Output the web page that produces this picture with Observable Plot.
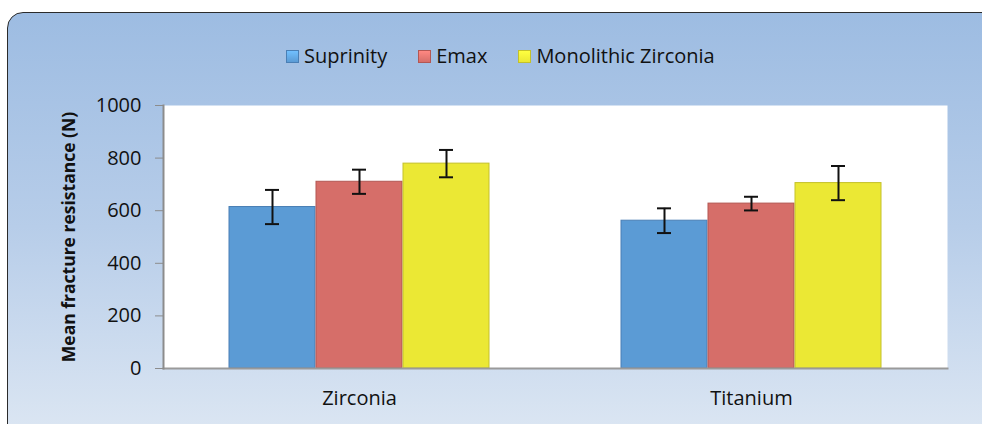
<!DOCTYPE html>
<html><head><meta charset="utf-8">
<script src="https://cdn.jsdelivr.net/npm/d3@7"></script>
<script src="https://cdn.jsdelivr.net/npm/@observablehq/plot@0.6"></script>
<style>
html,body{margin:0;padding:0;width:982px;height:424px;overflow:hidden;background:#fff;font-family:"Open Sans",sans-serif;}
#frame{position:absolute;left:7px;top:12px;width:995px;height:430px;border:1.5px solid #2b2b2b;border-radius:16px;background:linear-gradient(to bottom,#9dbce2 0%,#b7cde9 50%,#dde7f3 100%);box-sizing:border-box;}
#chart{position:absolute;left:0;top:0;}
#legend{position:absolute;left:286px;top:46px;display:flex;align-items:center;font-size:20px;line-height:20px;color:#111;}
.item{display:flex;align-items:center;margin-right:31px}
.sw{width:13px;height:13px;margin-right:5px;box-sizing:border-box;}
</style></head><body>
<div id="frame"></div>
<div id="chart"></div>
<div id="legend"></div>
<script>
const groups = ["Zirconia", "Titanium"];
const series = ["Suprinity", "Emax", "Monolithic Zirconia"];
const colors = ["#5b9bd5", "#d66e69", "#ebe834"];
const strokes = ["#4a7fb5", "#b35753", "#c4c12a"];
const zirconiaMeans = [614, 710, 779];
const zirconiaSD = [65, 46, 52];
const titaniumMeans = [562, 627, 705];
const titaniumSD = [47, 26, 65];
const yTicks = [0, 200, 400, 600, 800, 1000];
const yLabel = "Mean fracture resistance (N)";

const data = [];
series.forEach((s, i) => {
  data.push({group: groups[0], series: s, mean: zirconiaMeans[i], sd: zirconiaSD[i]});
  data.push({group: groups[1], series: s, mean: titaniumMeans[i], sd: titaniumSD[i]});
});

const chart = Plot.plot({
  width: 982, height: 424,
  marginTop: 105, marginBottom: 56, marginLeft: 163, marginRight: 35,
  style: {background: "transparent", fontFamily: "Open Sans, sans-serif", color: "#111"},
  fx: {domain: groups, paddingInner: 0, paddingOuter: 0, label: null, axis: null},
  x: {domain: series, paddingInner: 0.01, paddingOuter: 0.742, axis: null},
  y: {domain: [0, 1000], axis: null},
  color: {domain: series, range: colors},
  marks: [
    Plot.frame({fill: "white", stroke: null, facet: "super"}),
    Plot.barY(data, {fx: "group", x: "series", y: "mean", fill: "series", stroke: d => strokes[series.indexOf(d.series)], strokeWidth: 1}),
    Plot.ruleX(data, {fx: "group", x: "series", y1: d => d.mean - d.sd, y2: d => d.mean + d.sd, stroke: "#111", strokeWidth: 2}),
    Plot.tickY(data, {fx: "group", x: "series", y: d => d.mean - d.sd, stroke: "#111", strokeWidth: 2, insetLeft: 36, insetRight: 36}),
    Plot.tickY(data, {fx: "group", x: "series", y: d => d.mean + d.sd, stroke: "#111", strokeWidth: 2, insetLeft: 36, insetRight: 36}),
    Plot.frame({anchor: "bottom", facet: "super", stroke: "#9a9a9a", strokeWidth: 2}),
    Plot.frame({anchor: "left", facet: "super", stroke: "#8c8c8c", strokeWidth: 2}),
    Plot.axisY({ticks: yTicks, tickFormat: d => String(d), tickSize: 8, tickPadding: 14, stroke: "#8c8c8c", fill: "#111", fontSize: 20, label: null}),
    Plot.axisY({ticks: [], label: yLabel, labelArrow: "none", labelAnchor: "center", labelOffset: 101, fontSize: 17.5, fontWeight: "bold", fill: "#111"}),
    Plot.axisFx({anchor: "bottom", tickSize: 0, tickPadding: 22, fontSize: 20, fill: "#111", label: null})
  ]
});
document.getElementById("chart").appendChild(chart);

const legend = document.getElementById("legend");
series.forEach((s, i) => {
  const it = document.createElement("div"); it.className = "item";
  const sw = document.createElement("div"); sw.className = "sw";
  sw.style.background = `linear-gradient(to bottom, ${d3.color(colors[i]).brighter(0.6)}, ${colors[i]})`;
  sw.style.border = `1px solid ${strokes[i]}`;
  const t = document.createElement("span"); t.textContent = s;
  it.appendChild(sw); it.appendChild(t); legend.appendChild(it);
});
</script>
</body></html>
